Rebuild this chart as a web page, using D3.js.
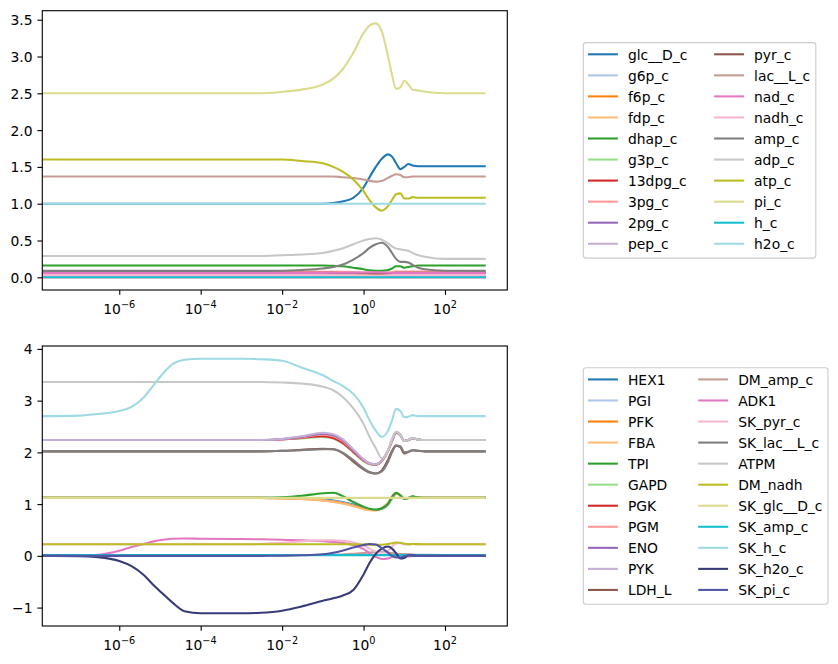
<!DOCTYPE html>
<html lang="en">
<head>
    <meta charset="UTF-8">
    <title>Glycolysis simulation</title>
    <style>
        body { margin: 0; background: #fff; }
        text { font-family: "DejaVu Sans", sans-serif; fill: #000; }
    </style>
</head>
<body>
    <svg id="fig" width="838" height="664"></svg>
</body>

<script src="https://cdn.jsdelivr.net/npm/d3@7/dist/d3.min.js"></script>

<script>
    // simulation time points (s)
    const time = [1e-8, 1e-7, 3e-7, 1e-6, 2e-6, 4e-6, 7e-6, 1.2e-5, 2e-5, 4e-5, 1e-4, 1e-3, 3e-3,
        0.01, 0.03, 0.1, 0.18, 0.3, 0.56, 1, 1.4, 2, 2.8, 4, 5, 6.3, 8, 10, 12.6, 16, 22, 32, 100, 1000]

    const metaboliteIds = ["glc__D_c", "g6p_c", "f6p_c", "fdp_c", "dhap_c", "g3p_c", "13dpg_c", "3pg_c",
        "2pg_c", "pep_c", "pyr_c", "lac__L_c", "nad_c", "nadh_c", "amp_c", "adp_c", "atp_c", "pi_c", "h_c", "h2o_c"]

    // concentrations, one row per metabolite, same order as metaboliteIds
    const concentrations = [
        [1.00,1.00,1.00,1.00,1.00,1.00,1.00,1.00,1.00,1.00,1.00,1.00,1.00, 1.00,1.00,1.00,1.01,1.03,1.08,1.22,1.36,1.50,1.61,1.67,1.64,1.55,1.47,1.50,1.54,1.52,1.51,1.51,1.51,1.51],
        [0.049,0.049,0.049,0.049,0.049,0.049,0.049,0.049,0.049,0.049,0.049,0.049,0.049, 0.049,0.049,0.049,0.049,0.050,0.052,0.056,0.060,0.063,0.064,0.062,0.058,0.055,0.054,0.055,0.056,0.056,0.055,0.055,0.055,0.055],
        [0.020,0.020,0.020,0.020,0.020,0.020,0.020,0.020,0.020,0.020,0.020,0.020,0.020, 0.020,0.020,0.020,0.020,0.021,0.022,0.024,0.025,0.026,0.026,0.025,0.023,0.022,0.022,0.022,0.023,0.023,0.022,0.022,0.022,0.022],
        [0.015,0.015,0.015,0.015,0.015,0.015,0.015,0.015,0.015,0.015,0.015,0.015,0.015, 0.015,0.015,0.014,0.014,0.013,0.012,0.010,0.009,0.008,0.009,0.011,0.014,0.016,0.016,0.015,0.014,0.015,0.015,0.015,0.015,0.015],
        [0.16,0.16,0.16,0.16,0.16,0.16,0.16,0.16,0.16,0.16,0.16,0.16,0.16, 0.16,0.16,0.16,0.155,0.15,0.13,0.11,0.095,0.09,0.09,0.10,0.12,0.15,0.15,0.13,0.14,0.15,0.16,0.16,0.16,0.16],
        [0.007,0.007,0.007,0.007,0.007,0.007,0.007,0.007,0.007,0.007,0.007,0.007,0.007, 0.007,0.007,0.007,0.007,0.007,0.006,0.005,0.005,0.004,0.004,0.005,0.006,0.007,0.007,0.007,0.007,0.007,0.007,0.007,0.007,0.007],
        [0.0002,0.0002,0.0002,0.0002,0.0002,0.0002,0.0002,0.0002,0.0002,0.0002,0.0002,0.0002,0.0002, 0.0002,0.0002,0.0002,0.0002,0.0002,0.0002,0.0002,0.0002,0.0002,0.0002,0.0002,0.0002,0.0002,0.0002,0.0002,0.0002,0.0002,0.0002,0.0002,0.0002,0.0002],
        [0.077,0.077,0.077,0.077,0.077,0.077,0.077,0.077,0.077,0.077,0.077,0.077,0.077, 0.077,0.077,0.076,0.075,0.074,0.071,0.066,0.062,0.060,0.061,0.066,0.072,0.078,0.080,0.078,0.077,0.077,0.077,0.077,0.077,0.077],
        [0.011,0.011,0.011,0.011,0.011,0.011,0.011,0.011,0.011,0.011,0.011,0.011,0.011, 0.011,0.011,0.011,0.011,0.011,0.010,0.010,0.009,0.009,0.009,0.010,0.011,0.012,0.012,0.011,0.011,0.011,0.011,0.011,0.011,0.011],
        [0.017,0.017,0.017,0.017,0.017,0.017,0.017,0.017,0.017,0.017,0.017,0.017,0.017, 0.017,0.017,0.017,0.017,0.016,0.015,0.014,0.013,0.012,0.013,0.015,0.017,0.019,0.018,0.017,0.017,0.017,0.017,0.017,0.017,0.017],
        [0.060,0.060,0.060,0.060,0.060,0.060,0.060,0.060,0.060,0.060,0.060,0.060,0.060, 0.060,0.060,0.060,0.060,0.059,0.058,0.056,0.053,0.051,0.050,0.052,0.056,0.060,0.062,0.061,0.060,0.060,0.060,0.060,0.060,0.060],
        [1.37,1.37,1.37,1.37,1.37,1.37,1.37,1.37,1.37,1.37,1.37,1.37,1.37, 1.37,1.37,1.37,1.37,1.36,1.35,1.33,1.31,1.30,1.31,1.35,1.38,1.40,1.39,1.36,1.36,1.37,1.37,1.37,1.37,1.37],
        [0.059,0.059,0.059,0.059,0.059,0.059,0.059,0.059,0.059,0.059,0.059,0.059,0.059, 0.059,0.059,0.060,0.061,0.062,0.064,0.066,0.067,0.067,0.066,0.063,0.060,0.058,0.058,0.059,0.060,0.059,0.059,0.059,0.059,0.059],
        [0.030,0.030,0.030,0.030,0.030,0.030,0.030,0.030,0.030,0.030,0.030,0.030,0.030, 0.030,0.030,0.029,0.028,0.027,0.025,0.023,0.022,0.022,0.023,0.026,0.029,0.031,0.031,0.030,0.029,0.030,0.030,0.030,0.030,0.030],
        [0.087,0.087,0.087,0.087,0.087,0.087,0.087,0.087,0.087,0.087,0.087,0.087,0.087, 0.09,0.10,0.12,0.14,0.17,0.24,0.33,0.40,0.45,0.47,0.41,0.33,0.25,0.21,0.21,0.20,0.17,0.13,0.11,0.09,0.087],
        [0.29,0.29,0.29,0.29,0.29,0.29,0.29,0.29,0.29,0.29,0.29,0.29,0.29, 0.30,0.31,0.33,0.36,0.39,0.45,0.50,0.52,0.53,0.51,0.46,0.42,0.39,0.38,0.37,0.36,0.33,0.30,0.28,0.25,0.25],
        [1.60,1.60,1.60,1.60,1.60,1.60,1.60,1.60,1.60,1.60,1.60,1.60,1.60, 1.60,1.58,1.55,1.50,1.44,1.33,1.17,1.05,0.95,0.905,0.97,1.05,1.13,1.14,1.07,1.07,1.09,1.08,1.08,1.08,1.08],
        [2.50,2.50,2.50,2.50,2.50,2.50,2.50,2.50,2.50,2.50,2.50,2.50,2.50, 2.52,2.55,2.62,2.70,2.82,3.05,3.32,3.42,3.45,3.34,3.00,2.75,2.56,2.58,2.67,2.62,2.55,2.54,2.52,2.50,2.50],
        [0.0001,0.0001,0.0001,0.0001,0.0001,0.0001,0.0001,0.0001,0.0001,0.0001,0.0001,0.0001,0.0001, 0.0001,0.0001,0.0001,0.0001,0.0001,0.0001,0.0001,0.0001,0.0001,0.0001,0.0001,0.0001,0.0001,0.0001,0.0001,0.0001,0.0001,0.0001,0.0001,0.0001,0.0001],
        [1.00,1.00,1.00,1.00,1.00,1.00,1.00,1.00,1.00,1.00,1.00,1.00,1.00, 1.00,1.00,1.00,1.00,1.00,1.00,1.00,1.00,1.00,1.00,1.00,1.00,1.00,1.00,1.00,1.00,1.00,1.00,1.00,1.00,1.00]
    ]

    const reactionIds = ["HEX1", "PGI", "PFK", "FBA", "TPI", "GAPD", "PGK", "PGM", "ENO", "PYK", "LDH_L",
        "DM_amp_c", "ADK1", "SK_pyr_c", "SK_lac__L_c", "ATPM", "DM_nadh", "SK_glc__D_c", "SK_amp_c",
        "SK_h_c", "SK_h2o_c", "SK_pi_c"]

    // fluxes, one row per reaction, same order as reactionIds
    const fluxes = [
        [1.12,1.12,1.12,1.12,1.12,1.12,1.12,1.12,1.12,1.12,1.12,1.12,1.12, 1.12,1.11,1.09,1.07,1.04,0.99,0.93,0.90,0.89,0.91,0.99,1.11,1.20,1.17,1.11,1.12,1.14,1.13,1.12,1.12,1.12],
        [1.12,1.12,1.12,1.12,1.12,1.12,1.12,1.12,1.12,1.12,1.12,1.12,1.12, 1.12,1.11,1.08,1.06,1.03,0.98,0.92,0.89,0.885,0.915,1.00,1.13,1.21,1.17,1.10,1.12,1.14,1.13,1.12,1.12,1.12],
        [1.12,1.12,1.12,1.12,1.12,1.12,1.12,1.12,1.12,1.12,1.12,1.12,1.12, 1.11,1.10,1.07,1.05,1.02,0.97,0.91,0.885,0.88,0.92,1.01,1.14,1.21,1.17,1.10,1.12,1.14,1.13,1.12,1.12,1.12],
        [1.12,1.12,1.12,1.12,1.12,1.12,1.12,1.12,1.12,1.12,1.12,1.12,1.12, 1.11,1.10,1.07,1.04,1.01,0.96,0.90,0.88,0.88,0.93,1.03,1.15,1.22,1.16,1.10,1.12,1.14,1.13,1.12,1.12,1.12],
        [1.12,1.12,1.12,1.12,1.12,1.12,1.12,1.12,1.12,1.12,1.12,1.12,1.12, 1.13,1.16,1.21,1.22,1.16,1.04,0.95,0.91,0.89,0.92,1.01,1.14,1.22,1.17,1.10,1.12,1.15,1.13,1.12,1.12,1.12],
        [2.24,2.24,2.24,2.24,2.24,2.24,2.24,2.24,2.24,2.24,2.24,2.24,2.24, 2.25,2.27,2.30,2.27,2.18,2.00,1.83,1.77,1.76,1.83,2.03,2.22,2.38,2.33,2.22,2.24,2.27,2.25,2.24,2.24,2.24],
        [2.24,2.24,2.24,2.24,2.24,2.24,2.24,2.24,2.24,2.24,2.24,2.24,2.24, 2.25,2.28,2.31,2.28,2.19,2.01,1.84,1.78,1.76,1.83,2.03,2.22,2.38,2.33,2.22,2.24,2.27,2.25,2.24,2.24,2.24],
        [2.24,2.24,2.24,2.24,2.24,2.24,2.24,2.24,2.24,2.24,2.24,2.24,2.24, 2.25,2.29,2.34,2.31,2.22,2.03,1.85,1.78,1.765,1.83,2.03,2.22,2.39,2.34,2.22,2.24,2.27,2.25,2.24,2.24,2.24],
        [2.24,2.24,2.24,2.24,2.24,2.24,2.24,2.24,2.24,2.24,2.24,2.24,2.24, 2.26,2.30,2.36,2.33,2.24,2.04,1.86,1.79,1.77,1.84,2.04,2.23,2.39,2.34,2.22,2.24,2.27,2.25,2.24,2.24,2.24],
        [2.24,2.24,2.24,2.24,2.24,2.24,2.24,2.24,2.24,2.24,2.24,2.24,2.24, 2.26,2.31,2.38,2.35,2.26,2.06,1.87,1.79,1.77,1.84,2.04,2.23,2.40,2.34,2.22,2.24,2.27,2.25,2.24,2.24,2.24],
        [2.02,2.02,2.02,2.02,2.02,2.02,2.02,2.02,2.02,2.02,2.02,2.02,2.02, 2.03,2.05,2.07,2.06,1.99,1.82,1.67,1.61,1.59,1.65,1.86,2.03,2.13,2.10,1.98,2.01,2.04,2.03,2.02,2.02,2.02],
        [0.014,0.014,0.014,0.014,0.014,0.014,0.014,0.014,0.014,0.014,0.014,0.014,0.014, 0.0145,0.016,0.019,0.023,0.027,0.039,0.053,0.064,0.072,0.076,0.066,0.053,0.040,0.034,0.034,0.032,0.027,0.021,0.018,0.0145,0.014],
        [0.0,0.0,0.02,0.10,0.17,0.23,0.28,0.31,0.33,0.335,0.33,0.325,0.32, 0.31,0.30,0.285,0.27,0.25,0.21,0.13,0.05,-0.02,-0.06,-0.05,-0.02,0.01,0.02,0.0,-0.01,0.0,0.0,0.0,0.0,0.0],
        [0.224,0.224,0.224,0.224,0.224,0.224,0.224,0.224,0.224,0.224,0.224,0.224,0.23, 0.25,0.28,0.30,0.30,0.29,0.26,0.20,0.14,0.08,0.06,0.10,0.18,0.24,0.25,0.22,0.22,0.23,0.224,0.224,0.224,0.224],
        [2.02,2.02,2.02,2.02,2.02,2.02,2.02,2.02,2.02,2.02,2.02,2.02,2.02, 2.03,2.04,2.06,2.06,2.00,1.85,1.69,1.62,1.59,1.63,1.82,2.00,2.13,2.12,2.00,2.01,2.04,2.03,2.02,2.02,2.02],
        [3.36,3.36,3.36,3.36,3.36,3.36,3.36,3.36,3.36,3.36,3.36,3.36,3.36, 3.35,3.33,3.27,3.20,3.08,2.85,2.55,2.30,2.08,1.89,2.04,2.27,2.40,2.34,2.22,2.24,2.28,2.25,2.24,2.24,2.24],
        [0.224,0.224,0.224,0.224,0.224,0.224,0.224,0.224,0.224,0.224,0.224,0.224,0.224, 0.224,0.224,0.224,0.224,0.223,0.222,0.218,0.214,0.212,0.215,0.228,0.245,0.258,0.252,0.235,0.225,0.228,0.226,0.224,0.224,0.224],
        [1.12,1.12,1.12,1.12,1.12,1.12,1.12,1.12,1.12,1.12,1.12,1.12,1.12, 1.12,1.12,1.12,1.12,1.12,1.12,1.12,1.12,1.12,1.12,1.12,1.12,1.12,1.12,1.12,1.12,1.12,1.12,1.12,1.12,1.12],
        [0.014,0.014,0.014,0.014,0.014,0.014,0.014,0.014,0.014,0.014,0.014,0.014,0.014, 0.014,0.014,0.014,0.014,0.014,0.014,0.014,0.014,0.014,0.014,0.014,0.014,0.014,0.014,0.014,0.014,0.014,0.014,0.014,0.014,0.014],
        [2.70,2.71,2.74,2.80,2.88,3.06,3.30,3.53,3.70,3.79,3.81,3.81,3.80, 3.77,3.64,3.49,3.38,3.29,3.13,2.86,2.62,2.42,2.30,2.42,2.62,2.84,2.80,2.68,2.69,2.72,2.70,2.70,2.70,2.70],
        [0.0,-0.005,-0.025,-0.10,-0.20,-0.37,-0.57,-0.74,-0.90,-1.07,-1.11,-1.11,-1.10, -1.06,-0.98,-0.87,-0.82,-0.77,-0.66,-0.36,-0.14,0.04,0.14,0.18,0.14,0.05,-0.05,-0.04,0.01,0.01,0.0,0.0,0.0,0.0],
        [0.0,0.0,0.0,0.0,0.0,0.0,0.0,0.0,0.0,0.0,0.0,0.0,0.0, 0.003,0.01,0.03,0.06,0.10,0.16,0.21,0.23,0.22,0.15,0.06,0.0,-0.03,-0.03,-0.01,0.01,0.0,0.0,0.0,0.0,0.0]
    ]

    const concTicks = [0, 0.5, 1, 1.5, 2, 2.5, 3, 3.5]
    const concTickLabels = ["0.0", "0.5", "1.0", "1.5", "2.0", "2.5", "3.0", "3.5"]
    const fluxTicks = [-1, 0, 1, 2, 3, 4]
    const fluxTickLabels = ["\u22121", "0", "1", "2", "3", "4"]
    const timeTickExponents = [-6, -4, -2, 0, 2]
    const timeTickLabels = ["\u22126", "\u22124", "\u22122", "0", "2"]

    // tab20 followed by the first tab20b colours
    const palette = ["#1f77b4", "#aec7e8", "#ff7f0e", "#ffbb78", "#2ca02c", "#98df8a", "#d62728", "#ff9896",
        "#9467bd", "#c5b0d5", "#8c564b", "#c49c94", "#e377c2", "#f7b6d2", "#7f7f7f", "#c7c7c7",
        "#bcbd22", "#dbdb8d", "#17becf", "#9edae5", "#393b79", "#5254a3"]

    const FS = 13.89        // 10pt at 100 dpi
    const LW = 2.08         // 1.5pt line width
    const SPINE = 1.11      // 0.8pt
    const axLeft = 42.3, axRight = 507.3
    const svg = d3.select("#fig")

    let x = d3.scaleLog()
        .domain([Math.pow(10, -7.89), Math.pow(10, 3.53)])
        .range([axLeft, axRight])

    drawPanel({ id: "conc", top: 10.7, bottom: 290, names: metaboliteIds, series: concentrations,
        yTicks: concTicks, yLabels: concTickLabels })
    drawPanel({ id: "flux", top: 346, bottom: 626, names: reactionIds, series: fluxes,
        yTicks: fluxTicks, yLabels: fluxTickLabels })

    function drawPanel(p) {
        let g = svg.append("g")

        // autoscale with 5% margins like matplotlib
        let [lo, hi] = d3.extent(p.series.flat())
        let pad = (hi - lo) * 0.05
        let y = d3.scaleLinear().domain([lo - pad, hi + pad]).range([p.bottom, p.top])

        g.append("clipPath").attr("id", "clip-" + p.id)
            .append("rect")
            .attr("x", axLeft).attr("y", p.top)
            .attr("width", axRight - axLeft).attr("height", p.bottom - p.top)

        let line = d3.line()
            .x(d => x(d[0]))
            .y(d => y(d[1]))
            .curve(d3.curveMonotoneX)

        let lines = g.append("g").attr("clip-path", `url(#clip-${p.id})`)
        p.series.forEach((vals, i) => {
            lines.append("path")
                .attr("d", line(time.map((t, k) => [t, vals[k]])))
                .attr("fill", "none")
                .attr("stroke", palette[i])
                .attr("stroke-width", LW)
        })

        // y axis
        let yAxis = g.append("g")
            .attr("transform", `translate(${axLeft},0)`)
            .call(d3.axisLeft(y).tickValues(p.yTicks)
                .tickFormat((d, i) => p.yLabels[i])
                .tickSize(4.86).tickPadding(4.86).tickSizeOuter(0))
        yAxis.select(".domain").remove()
        yAxis.selectAll("line").attr("stroke", "#000").attr("stroke-width", SPINE)
        yAxis.selectAll("text")
            .attr("font-family", "DejaVu Sans, sans-serif")
            .attr("font-size", FS)
            .attr("dy", "0.36em")
            .attr("fill", "#000")

        // x axis, labels drawn as 10 with a superscript
        let xTicks = timeTickExponents.map(e => Math.pow(10, e))
        let xAxis = g.append("g")
            .attr("transform", `translate(0,${p.bottom})`)
            .call(d3.axisBottom(x).tickValues(xTicks).tickFormat("")
                .tickSize(4.86).tickSizeOuter(0))
        xAxis.select(".domain").remove()
        xAxis.selectAll("line").attr("stroke", "#000").attr("stroke-width", SPINE)

        timeTickExponents.forEach((e, i) => {
            let t = g.append("text")
                .attr("x", x(Math.pow(10, e)))
                .attr("y", p.bottom + 24)
                .attr("text-anchor", "middle")
                .attr("font-size", FS)
            t.append("tspan").text("10")
            t.append("tspan").attr("dy", -6).attr("font-size", FS * 0.7).text(timeTickLabels[i])
        })

        // spines
        g.append("rect")
            .attr("x", axLeft).attr("y", p.top)
            .attr("width", axRight - axLeft).attr("height", p.bottom - p.top)
            .attr("fill", "none").attr("stroke", "#000").attr("stroke-width", SPINE)

        drawLegend(p, (p.top + p.bottom) / 2)
    }

    function drawLegend(p, centerY) {
        let nRows = Math.ceil(p.names.length / 2)
        let pitch = 21.05
        let boxLeft = 583.3
        let boxH = nRows * pitch + 5
        let boxTop = centerY - boxH / 2

        let g = svg.append("g")
        let frame = g.append("rect")
            .attr("x", boxLeft).attr("y", boxTop).attr("height", boxH)
            .attr("rx", 2.8).attr("ry", 2.8)
            .attr("fill", "#fff").attr("fill-opacity", 0.8)
            .attr("stroke", "#cccccc").attr("stroke-width", SPINE)

        let handleLen = 2.0 * FS, textPad = 0.8 * FS, colSpace = 2.0 * FS
        let colX = boxLeft + 5.75
        let right = 0

        for (let c = 0; c < 2; c++) {
            let names = p.names.slice(c * nRows, (c + 1) * nRows)
            let textX = colX + handleLen + textPad
            let maxW = 0
            names.forEach((name, r) => {
                let cy = boxTop + 11.7 + r * pitch
                let idx = c * nRows + r
                g.append("line")
                    .attr("x1", colX).attr("x2", colX + handleLen)
                    .attr("y1", cy).attr("y2", cy)
                    .attr("stroke", palette[idx]).attr("stroke-width", LW)
                    .attr("stroke-linecap", "square")
                let t = g.append("text")
                    .attr("x", textX).attr("y", cy + 5.2)
                    .attr("font-size", FS)
                    .text(name)
                maxW = Math.max(maxW, t.node().getComputedTextLength())
            })
            right = textX + maxW
            colX = textX + maxW + colSpace
        }
        frame.attr("width", right + 5.6 - boxLeft)
    }
</script>

</html>
